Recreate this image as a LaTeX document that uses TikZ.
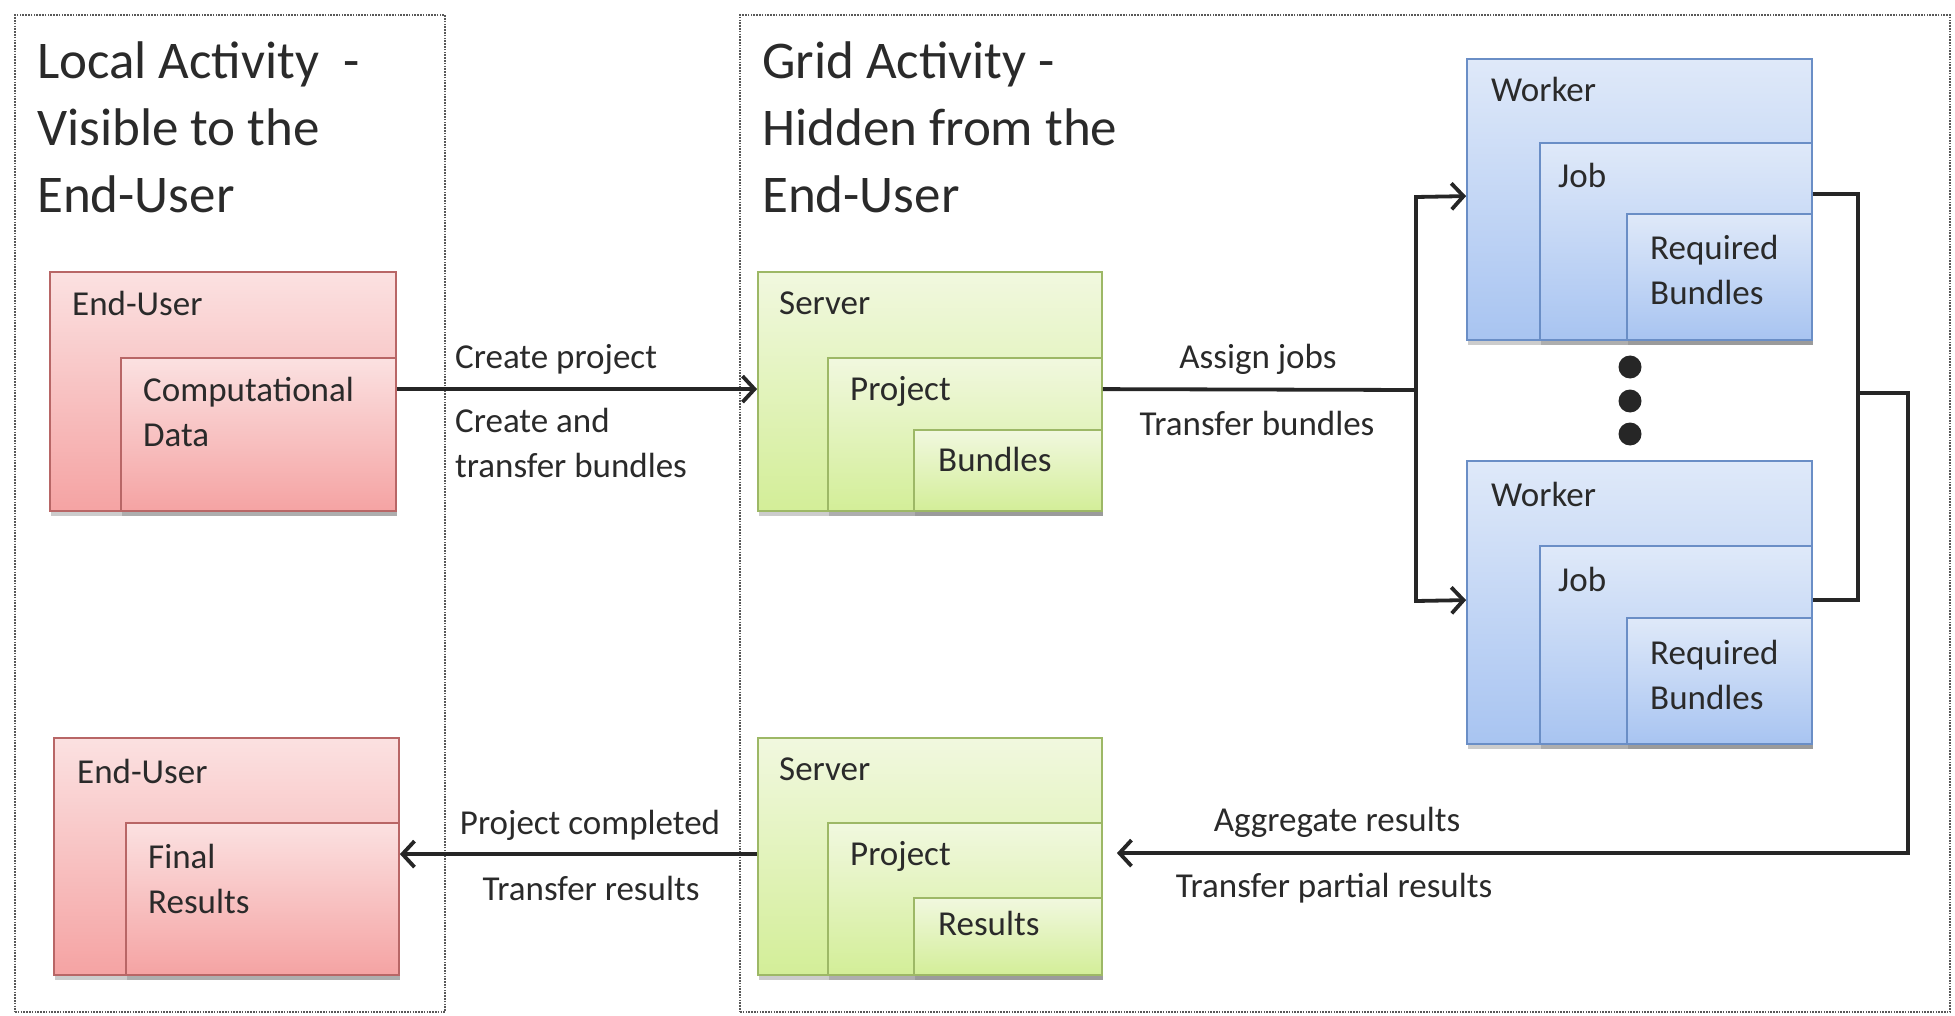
\documentclass[tikz,border=0pt]{standalone}
\usepackage{fontspec}
\setmainfont{Carlito}
\usetikzlibrary{arrows.meta,shadows,fit,calc}
\definecolor{redtop}{HTML}{FBE1E1}
\definecolor{redbot}{HTML}{F5A3A3}
\definecolor{redline}{HTML}{B86666}
\definecolor{grntop}{HTML}{F1F8DF}
\definecolor{grnbot}{HTML}{D3EE98}
\definecolor{grnline}{HTML}{9DB866}
\definecolor{blutop}{HTML}{DFE9F9}
\definecolor{blubot}{HTML}{A8C4F1}
\definecolor{bluline}{HTML}{6A8EC6}
\definecolor{txt}{HTML}{2A2A2A}
\tikzset{
  box/.style={rectangle, inner sep=0pt, line width=1.8pt,
    drop shadow={shadow xshift=1pt, shadow yshift=-5pt, opacity=0.4}},
  redbox/.style={box, draw=redline, top color=redtop, bottom color=redbot},
  grnbox/.style={box, draw=grnline, top color=grntop, bottom color=grnbot},
  blubox/.style={box, draw=bluline, top color=blutop, bottom color=blubot},
  area/.style={draw=black!65, line width=1.5pt, dash pattern=on 1.6pt off 1.2pt},
  lbl/.style={font=\fontsize{35}{45}\selectfont, text=txt, inner sep=0pt, anchor=base west, align=left},
  clbl/.style={font=\fontsize{35}{45}\selectfont, text=txt, inner sep=0pt, anchor=base, align=center},
  ttl/.style={font=\fontsize{53}{67}\selectfont, text=txt, inner sep=0pt, anchor=base west, align=left},
  conn/.style={draw=black!85, line width=3.8pt},
  arr/.style={conn, -{Straight Barb[length=12pt,width=26pt,line width=3.8pt]}},
  dot/.style={circle, fill=black!85, inner sep=0pt, minimum size=23pt}
}
\begin{document}
\begin{tikzpicture}[x=1pt,y=-1pt]
\useasboundingbox (0,0) rectangle (1955,1016);
% areas
\node[area, fit={(15,15) (445,1012)}, inner sep=0pt] (local) {};
\node[area, fit={(740,15) (1950,1012)}, inner sep=0pt] (grid) {};
% (base anchor of a multi-line node = baseline of its last line)
\node[ttl] (t1) at (37,213) {Local Activity\ \ -\\Visible to the\\End-User};
\node[ttl] (t2) at (762,213) {Grid Activity -\\Hidden from the\\End-User};

% end-user 1
\node[redbox, fit={(50,272) (396,511)}] (eu1) {};
\node[redbox, fit={(121,358) (396,511)}] (cd) {};
\node[lbl] (eu1l) at (72,316) {End-User};
\node[lbl] (cdl) at (143,446) {Computational\\Data};

% end-user 2
\node[redbox, fit={(54,738) (399,975)}] (eu2) {};
\node[redbox, fit={(126,823) (399,975)}] (fr) {};
\node[lbl] (eu2l) at (77,783) {End-User};
\node[lbl] (frl) at (148,913) {Final\\Results};

% server 1
\node[grnbox, fit={(758,272) (1102,511)}] (srv1) {};
\node[grnbox, fit={(828,358) (1102,511)}] (sp1) {};
\node[grnbox, fit={(914,430) (1102,511)}] (sb1) {};
\node[lbl] (srv1l) at (779,315) {Server};
\node[lbl] (sp1l) at (850,400) {Project};
\node[lbl] (sb1l) at (938,471) {Bundles};

% server 2
\node[grnbox, fit={(758,738) (1102,975)}] (srv2) {};
\node[grnbox, fit={(828,823) (1102,975)}] (sp2) {};
\node[grnbox, fit={(914,898) (1102,975)}] (sr2) {};
\node[lbl] (srv2l) at (779,780) {Server};
\node[lbl] (sp2l) at (850,865) {Project};
\node[lbl] (sr2l) at (938,935) {Results};

% worker 1
\node[blubox, fit={(1467,59) (1812,340)}] (wk1) {};
\node[blubox, fit={(1540,143) (1812,340)}] (job1) {};
\node[blubox, fit={(1627,214) (1812,340)}] (rb1) {};
\node[lbl] (wk1l) at (1491,102) {Worker};
\node[lbl] (job1l) at (1558,188) {Job};
\node[lbl] (rb1l) at (1650,305) {Required\\Bundles};

% worker 2
\node[blubox, fit={(1467,461) (1812,744)}] (wk2) {};
\node[blubox, fit={(1540,546) (1812,744)}] (job2) {};
\node[blubox, fit={(1627,618) (1812,744)}] (rb2) {};
\node[lbl] (wk2l) at (1491,506) {Worker};
\node[lbl] (job2l) at (1558,591) {Job};
\node[lbl] (rb2l) at (1650,709) {Required\\Bundles};

% dots
\node[dot] (d1) at (1630,367) {};
\node[dot] (d2) at (1630,401) {};
\node[dot] (d3) at (1630,434) {};

% connectors
\draw[arr] ($(cd.north east)+(0,32)$) -- ($(srv1.north west)+(0,118)$);
\coordinate (j1) at (1416,390);
\draw[conn] ($(sp1.north east)+(0,32)$) -- (j1);
\draw[arr] ($(j1)+(0,-193)$) -- ($(wk1.north west)+(0,138)$);
\draw[arr] ($(j1)+(0,211)$) -- ($(wk2.north west)+(0,140)$);
\draw[conn, line cap=rect] ($(j1)+(0,-193)$) -- ($(j1)+(0,211)$);
\coordinate (j2) at (1858,393);
\draw[conn] ($(job1.north east)+(0,52)$) -| (j2) |- ($(job2.north east)+(0,55)$);
\draw[arr] (j2) -- (1908,393) |- ($(sp2.north east)+(14,31)$);
\draw[arr] ($(srv2.north west)+(0,117)$) -- ($(fr.north east)+(0,32)$);

% labels
\node[lbl] (l1) at (455,368) {Create project};
\node[lbl] (l2) at (455,477) {Create and\\transfer bundles};
\node[clbl] (l3) at (1258,368) {Assign jobs};
\node[clbl] (l4) at (1257,435) {Transfer bundles};
\node[clbl] (l5) at (1337,831) {Aggregate results};
\node[clbl] (l6) at (1334,897) {Transfer partial results};
\node[clbl] (l7) at (590,834) {Project completed};
\node[clbl] (l8) at (591,900) {Transfer results};
\end{tikzpicture}
\end{document}
